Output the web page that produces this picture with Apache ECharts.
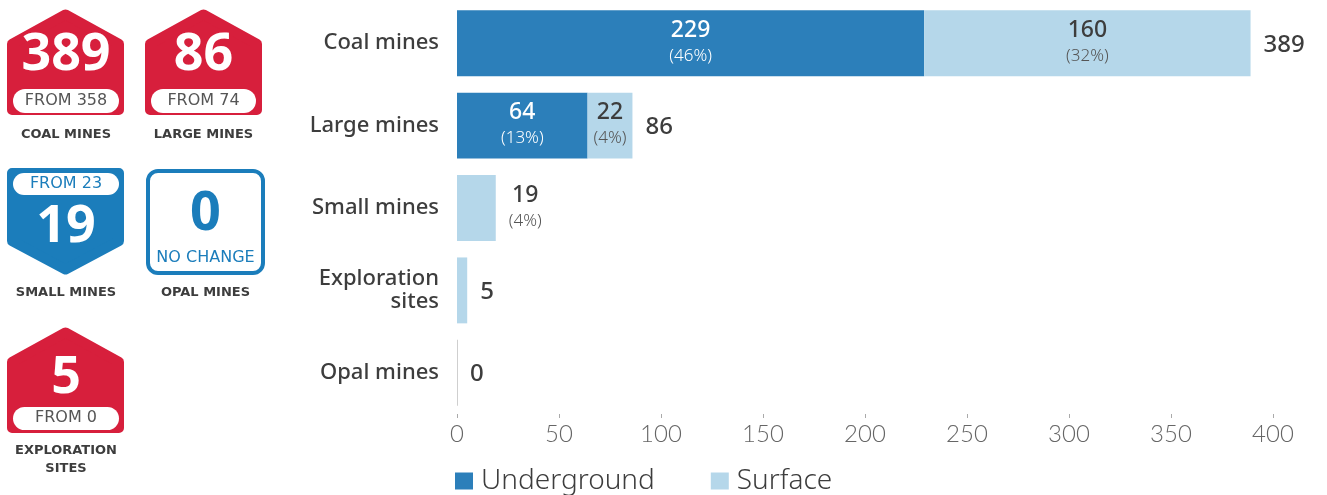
<!DOCTYPE html>
<html><head><meta charset="utf-8">
<script src="https://cdn.jsdelivr.net/npm/echarts@6/dist/echarts.min.js"></script>
<style>html,body{margin:0;padding:0;background:#fff}#c{width:1327px;height:495px}</style>
</head><body><div id="c"></div>
<script>
// ---- data ----
const categories = ['Coal mines', 'Large mines', 'Small mines', 'Exploration\nsites', 'Opal mines'];
const underground = [229, 64, 0, 0, 0];
const surface = [160, 22, 19, 5, 0];
const undergroundPct = [46, 13, null, null, null];
const surfacePct = [32, 4, 4, null, null];
const axisMin = 0, axisMax = 400, axisStep = 50;
const badgeNumbers = ['389', '86', '19', '0', '5'];
const badgeChange = ['FROM 358', 'FROM 74', 'FROM 23', 'NO CHANGE', 'FROM 0'];
const badgeNames = ['COAL MINES', 'LARGE MINES', 'SMALL MINES', 'OPAL MINES', 'EXPLORATION\nSITES'];

const totals = underground.map((u, i) => u + surface[i]);

const RED = '#d71f3c', BLUE = '#1b7dbb', DARK = '#3d3d3d';
const UG = '#2c7fba', SF = '#b5d7ea';
const FONT = "'Noto Sans', sans-serif";
const WIDE = "'DejaVu Sans', sans-serif";

// ---- badges (graphic) ----
function house(x, y, w, h, rh, down, color) {
  const s = 5;
  const L = x + s, R = x + w - s, cx = x + w / 2;
  let pts;
  if (!down) {
    pts = [[cx, y + s + 0.5], [R, y + rh + s + 3], [R, y + h - s], [L, y + h - s], [L, y + rh + s + 3]];
  } else {
    pts = [[L, y + s], [R, y + s], [R, y + h - rh - s - 3], [cx, y + h - s - 0.5], [L, y + h - rh - s - 3]];
  }
  return { type: 'polygon', shape: { points: pts }, style: { fill: color, stroke: color, lineWidth: 2 * s, lineJoin: 'round' }, silent: true };
}
function pill(x, y, w, h) {
  return { type: 'rect', shape: { x, y, width: w, height: h, r: h / 2 }, style: { fill: '#fff' }, silent: true };
}
function txt(t, x, y, size, color, weight, fam) {
  return { type: 'text', silent: true, style: { text: t, x, y, textAlign: 'center', textVerticalAlign: 'middle', fill: color, font: `${weight || 'bold'} ${size}px ${fam || FONT}`, lineHeight: 18 } };
}
const g = [];
// coal
g.push(house(7, 9, 117, 106, 27, false, RED));
g.push(pill(13, 89, 106, 24));
g.push(txt(badgeNumbers[0], 66, 55, 52, '#fff', 'bold'));
g.push(txt(badgeChange[0], 66, 101, 16, '#555', '500', WIDE));
g.push(txt(badgeNames[0], 66, 135, 13, DARK, 'bold', WIDE));
// large
g.push(house(145, 9, 117, 106, 27, false, RED));
g.push(pill(151, 89, 105, 24));
g.push(txt(badgeNumbers[1], 203.5, 55, 52, '#fff', 'bold'));
g.push(txt(badgeChange[1], 203.5, 101, 16, '#555', '500', WIDE));
g.push(txt(badgeNames[1], 203.5, 135, 13, DARK, 'bold', WIDE));
// small
g.push(house(7, 168, 117, 107, 26, true, BLUE));
g.push(pill(13, 173, 106, 22));
g.push(txt(badgeChange[2], 66, 184, 16, BLUE, '500', WIDE));
g.push(txt(badgeNumbers[2], 66, 227, 52, '#fff', 'bold'));
g.push(txt(badgeNames[2], 66, 293, 13, DARK, 'bold', WIDE));
// opal
g.push({ type: 'rect', silent: true, shape: { x: 148, y: 171, width: 115, height: 102, r: 10 }, style: { fill: '#fff', stroke: BLUE, lineWidth: 4 } });
g.push(txt(badgeNumbers[3], 205.5, 215, 54, BLUE, 'bold'));
g.push(txt(badgeChange[3], 205.5, 258, 16, BLUE, 'normal', WIDE));
g.push(txt(badgeNames[3], 205.5, 293, 13, DARK, 'bold', WIDE));
// exploration
g.push(house(7, 327, 117, 106, 27, false, RED));
g.push(pill(13, 407, 106, 23));
g.push(txt(badgeNumbers[4], 66, 378, 52, '#fff', 'bold'));
g.push(txt(badgeChange[4], 66, 418, 16, '#555', '500', WIDE));
g.push(txt(badgeNames[4], 66, 460, 13, DARK, 'bold', WIDE));

// ---- chart ----
function rich(main, sub) {
  return {
    v: { fontSize: 23, fontWeight: 500, color: main, lineHeight: 26, fontFamily: FONT, align: 'center' },
    p: { fontSize: 17, fontWeight: 300, color: sub, lineHeight: 26, fontFamily: FONT, align: 'center' }
  };
}

const chart = echarts.init(document.getElementById('c'), null, { renderer: 'canvas' });
chart.setOption({
  animation: false,
  graphic: g,
  grid: { left: 457, right: 54, top: 2, bottom: 81, containLabel: false },
  legend: {
    data: ['Underground', 'Surface'],
    left: 450, top: 462, icon: 'rect', itemWidth: 18, itemHeight: 17, itemGap: 56,
    textStyle: { fontSize: 28, color: DARK, fontFamily: FONT, fontWeight: 300, padding: [0, 0, 0, 3] },
    selectedMode: false
  },
  xAxis: {
    type: 'value', min: axisMin, max: axisMax, interval: axisStep,
    axisLine: { show: false },
    axisTick: { show: true, length: 4, lineStyle: { color: '#aaa' } },
    splitLine: { show: false },
    axisLabel: { fontSize: 24, color: '#666', fontFamily: 'Lato, sans-serif', fontWeight: 300, margin: 8 }
  },
  yAxis: {
    type: 'category', data: categories, inverse: true,
    axisLine: { show: false }, axisTick: { show: false },
    axisLabel: { fontSize: 22, fontWeight: 500, color: DARK, fontFamily: FONT, margin: 18, lineHeight: 23, align: 'right', padding: [4, 0, 0, 0] }
  },
  series: [
    {
      name: 'Underground', type: 'bar', stack: 'm', data: underground, barCategoryGap: '20%', barGap: '-100%',
      itemStyle: { color: UG },
      label: {
        show: true, position: 'inside', rich: rich('#fff', '#fff'),
        formatter: p => p.value > 0 ? `{v|${p.value}}\n{p|(${undergroundPct[p.dataIndex]}%)}` : ''
      }
    },
    {
      name: 'Surface', type: 'bar', stack: 'm', barMinHeight: 1, barCategoryGap: '20%', barGap: '-100%',
      data: surface.map(v => v === 0 ? { value: v, itemStyle: { color: '#cfcfcf' } } : v),
      itemStyle: { color: SF },
      label: {
        show: true, position: 'inside', rich: rich(DARK, '#555'),
        formatter: p => (p.value > 0 && underground[p.dataIndex] > 0) ? `{v|${p.value}}\n{p|(${surfacePct[p.dataIndex]}%)}` : ''
      }
    },
    {
      name: 'Total', type: 'bar', data: totals, barCategoryGap: '20%', barGap: '-100%', silent: true, z: 5,
      itemStyle: { color: 'rgba(0,0,0,0)' },
      label: {
        show: true, position: 'right', distance: 13, rich: Object.assign(rich(DARK, '#555'), {
          t: { fontSize: 24, fontWeight: 500, color: DARK, fontFamily: FONT, padding: [3, 0, 0, 0] }
        }),
        formatter: p => {
          const i = p.dataIndex;
          if (underground[i] === 0 && surfacePct[i] != null) return `{v|${p.value}}\n{p|(${surfacePct[i]}%)}`;
          return `{t|${p.value}}`;
        }
      }
    }
  ]
});
</script></body></html>
